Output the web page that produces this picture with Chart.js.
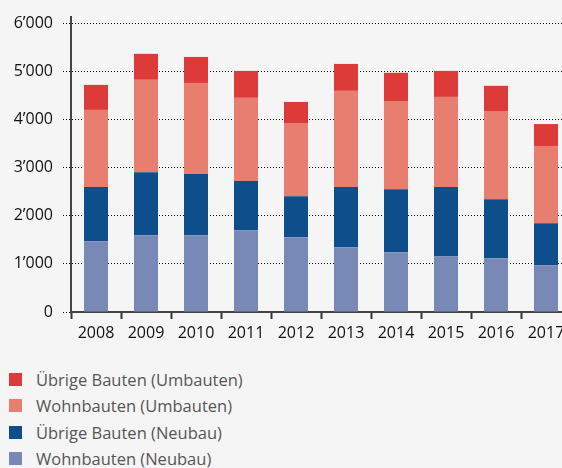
<!DOCTYPE html>
<html>
<head>
<meta charset="utf-8">
<script src="https://cdn.jsdelivr.net/npm/chart.js@4"></script>
<style>
  html, body { margin: 0; padding: 0; background: #f5f5f5; overflow: hidden; width: 562px; height: 468px; }
  #wrap { position: relative; width: 562px; overflow: hidden; }
  #legend { margin-top: 16px; font-family: "Open Sans", sans-serif; font-size: 16.5px; color: #555; }
  .item { display: flex; align-items: center; height: 26.5px; }
  .box { width: 13px; height: 13px; margin-left: 9px; margin-right: 14px; }
</style>
</head>
<body>
<div id="wrap"><canvas id="chart" width="571" height="350"></canvas></div>
<div id="legend"></div>
<script>
// Daten
const jahre = ['2008', '2009', '2010', '2011', '2012', '2013', '2014', '2015', '2016', '2017'];
const wohnNeubau = [1470, 1595, 1595, 1700, 1550, 1345, 1240, 1155, 1115, 970];
const uebrigeNeubau = [1125, 1310, 1270, 1020, 855, 1250, 1310, 1440, 1230, 875];
const wohnUmbau = [1605, 1920, 1895, 1730, 1520, 2000, 1835, 1875, 1830, 1605];
const uebrigeUmbau = [520, 540, 540, 560, 440, 560, 585, 540, 525, 455];
const yTicks = [0, 1000, 2000, 3000, 4000, 5000, 6000];

const ctx = document.getElementById('chart').getContext('2d');
const tickFont = { family: '"Open Sans", sans-serif', size: 16, weight: 'normal' };

const datasets = [
    { label: 'Wohnbauten (Neubau)', data: wohnNeubau, backgroundColor: '#7889b6' },
    { label: 'Übrige Bauten (Neubau)', data: uebrigeNeubau, backgroundColor: '#0e4e8a' },
    { label: 'Wohnbauten (Umbauten)', data: wohnUmbau, backgroundColor: '#e77e6f' },
    { label: 'Übrige Bauten (Umbauten)', data: uebrigeUmbau, backgroundColor: '#dd3a3a' },
];

const chart = new Chart(ctx, {
    type: 'bar',
    data: {
        labels: jahre,
        datasets: datasets.map(d => Object.assign({ barPercentage: 0.48, categoryPercentage: 1, borderWidth: 0, inflateAmount: 0 }, d)),
    },
    options: {
        responsive: false,
        animation: false,
        layout: { padding: { top: 17, bottom: 8, left: 0, right: 0 } },
        plugins: { legend: { display: false }, tooltip: { enabled: false } },
        scales: {
            x: {
                stacked: true,
                afterFit: s => { s.height = 30; },
                grid: { drawOnChartArea: false, drawTicks: true, tickLength: 7, tickColor: '#333', tickWidth: 2, offset: true },
                border: { color: '#444', width: 2 },
                ticks: { color: '#111', font: tickFont, padding: 5 },
            },
            y: {
                stacked: true,
                min: 0,
                max: 6130,
                afterFit: s => { s.width = 71; s.paddingTop = 0; s.paddingBottom = 0; },
                afterBuildTicks: s => { s.ticks = yTicks.map(v => ({ value: v })); },
                grid: { color: '#000', lineWidth: 1, tickLength: 8, tickColor: '#000', tickBorderDash: [1, 2] },
                border: { color: '#444', width: 2, dash: [1, 2] },
                ticks: {
                    autoSkip: false,
                    color: '#111',
                    font: tickFont,
                    padding: 10,
                    callback: v => v === 0 ? '0' : (v / 1000) + '’000',
                },
            },
        },
    },
});

// Legende (oberste Serie zuerst)
const legend = document.getElementById('legend');
chart.data.datasets.slice().reverse().forEach(ds => {
    const row = document.createElement('div');
    row.className = 'item';
    row.innerHTML = '<span class="box" style="background:' + ds.backgroundColor + '"></span><span>' + ds.label + '</span>';
    legend.appendChild(row);
});
</script>
</body>
</html>
